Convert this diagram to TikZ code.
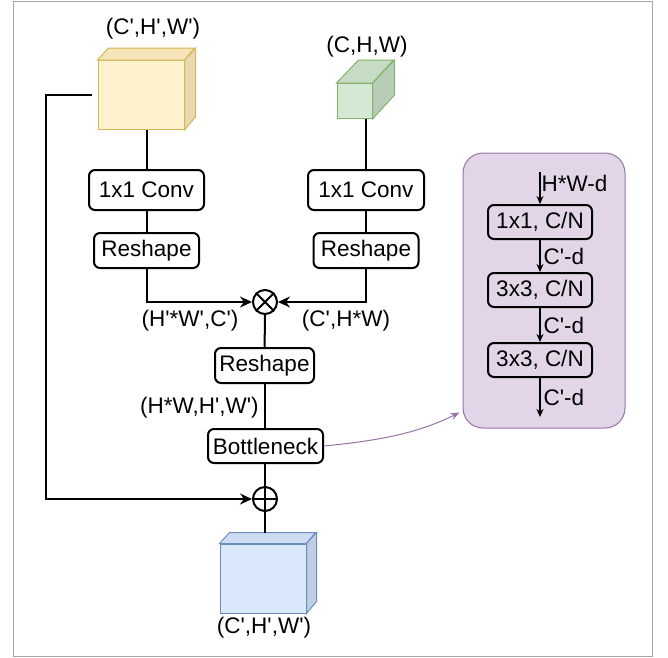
\documentclass[tikz,border=0pt]{standalone}
\usepackage{fontspec}
\setmainfont{Liberation Sans}
\usetikzlibrary{calc,positioning,arrows.meta}

\definecolor{yfill}{HTML}{FFF2CC}
\definecolor{ytop}{HTML}{F6E5B9}
\definecolor{yside}{HTML}{E8D9B0}
\definecolor{yline}{HTML}{D6B656}
\definecolor{gfill}{HTML}{D5E8D4}
\definecolor{gtop}{HTML}{C6DCC5}
\definecolor{gside}{HTML}{B8CDB7}
\definecolor{gline}{HTML}{82B366}
\definecolor{bfill}{HTML}{DAE8FC}
\definecolor{btop}{HTML}{CDDCF2}
\definecolor{bside}{HTML}{C0CEE3}
\definecolor{bline}{HTML}{6C8EBF}
\definecolor{pfill}{HTML}{E1D5E7}
\definecolor{pline}{HTML}{9673A6}
\newcommand{\pr}{\textquotesingle}

\begin{document}
\begin{tikzpicture}[x=1pt,y=-1pt,font=\fontsize{22.5}{26}\selectfont,
        line width=2pt,
        blk/.style={draw,rounded corners=6pt,inner sep=0pt,minimum height=35pt},
        opnode/.style={draw,circle,inner sep=0pt,minimum size=24pt},
        face/.style={line width=1pt,draw=#1line},
        arr/.style={-{Stealth[length=12pt,width=11pt]}},
        sarr/.style={line width=1.3pt,-{Stealth[length=8pt,width=7pt]}}]
        \useasboundingbox (0,0) rectangle (668,657);
        \draw[line width=1pt,gray!70] (13,1) rectangle (652,656);

        % input cubes
        \node[face=y,fill=yfill,minimum width=86pt,minimum height=69pt] (ycube) at (141,95) {};
        \draw[face=y,fill=ytop] (ycube.north west) --++(11,-12) --++(86,0) -- (ycube.north east) -- cycle;
        \draw[face=y,fill=yside] (ycube.north east) --++(11,-12) --++(0,69) -- (ycube.south east) -- cycle;
        \node at (153,29) {(C\pr,H\pr,W\pr)};

        \node[face=g,fill=gfill,minimum width=35pt,minimum height=35pt] (gcube) at (354.5,101) {};
        \draw[face=g,fill=gtop] (gcube.north west) --++(22,-23) --++(35,0) -- (gcube.north east) -- cycle;
        \draw[face=g,fill=gside] (gcube.north east) --++(22,-23) --++(0,35) -- (gcube.south east) -- cycle;
        \node at (367,47) {(C,H,W)};

        % two branches
        \node[blk,minimum width=115pt,minimum height=40pt] (conv1) at (146.5,190) {1x1 Conv};
        \node[blk,minimum width=105pt] (rs1) at (146.5,250.5) {Reshape};
        \node[blk,minimum width=116pt,minimum height=40pt] (conv2) at (366,190) {1x1 Conv};
        \node[blk,minimum width=105pt] (rs2) at (366,250.5) {Reshape};

        \draw (conv1.north) -- (conv1.north |- ycube.south);
        \draw (conv2.north) -- (conv2.north |- gcube.south);
        \draw (conv1) -- (rs1);
        \draw (conv2) -- (rs2);

        \node[opnode] (mul) at (265,302) {};
        \draw (mul.north west) -- (mul.south east) (mul.north east) -- (mul.south west);
        \draw[arr] (rs1.south) |- (mul.west);
        \draw[arr] (rs2.south) |- (mul.east);
        \node at (190,321) {(H\pr*W\pr,C\pr)};
        \node at (346,321) {(C\pr,H*W)};

        % middle column
        \node[blk,minimum width=99pt] (rs3) at (264.5,365.5) {Reshape};
        \node[anchor=east] at (263,408) {(H*W,H\pr,W\pr)};
        \node[blk,minimum width=115pt,minimum height=34pt] (bn) at (265.5,446) {Bottleneck};
        \node[opnode] (add) at (265,499) {};
        \draw (add.north) -- (add.south) (add.west) -- (add.east);
        \draw (mul) -- (rs3);
        \draw (rs3.south) -- (rs3.south |- bn.north);
        \draw (bn.south -| add) -- (add.north);

        \coordinate (skip) at (46,95);
        \draw[arr] ($(ycube.west)+(-6,0)$) -- (skip) |- (add.west);

        % output cube
        \node[face=b,fill=bfill,minimum width=86pt,minimum height=69pt] (bcube) at (263,578.5) {};
        \draw[face=b,fill=btop] (bcube.north west) --++(10,-11) --++(86,0) -- (bcube.north east) -- cycle;
        \draw[face=b,fill=bside] (bcube.north east) --++(10,-11) --++(0,69) -- (bcube.south east) -- cycle;
        \draw (add.south) -- (add.south |- 0,533);
        \node at (264,628) {(C\pr,H\pr,W\pr)};

        % bottleneck detail
        \node[draw=pline,fill=pfill,line width=1pt,rounded corners=20pt,
              minimum width=162pt,minimum height=275pt] (bnet) at (544,290.5) {};
        \node[blk,minimum width=104pt,minimum height=34pt] (b1) at (540,222) {1x1, C/N};
        \node[blk,minimum width=104pt,minimum height=34pt] (b2) at (540,290) {3x3, C/N};
        \node[blk,minimum width=104pt,minimum height=34pt] (b3) at (540,360) {3x3, C/N};
        \coordinate (bin) at (540,172);
        \coordinate (bout) at (540,417);
        \draw[sarr] (bin) -- (b1.north) node[pos=0.35,right,inner sep=1pt] {H*W-d};
        \draw[sarr] (b1) -- (b2) node[midway,right,inner sep=3pt] {C\pr-d};
        \draw[sarr] (b2) -- (b3) node[midway,right,inner sep=3pt] {C\pr-d};
        \draw[sarr] (b3) -- (bout) node[midway,right,inner sep=3pt] {C\pr-d};

        \draw[pline,line width=1pt,-{Stealth[length=9pt,width=7pt]}] (bn.east)
            .. controls (385,440) and (420,432) .. ($(bnet.south west)+(-3,-16)$);
    \end{tikzpicture}
\end{document}
